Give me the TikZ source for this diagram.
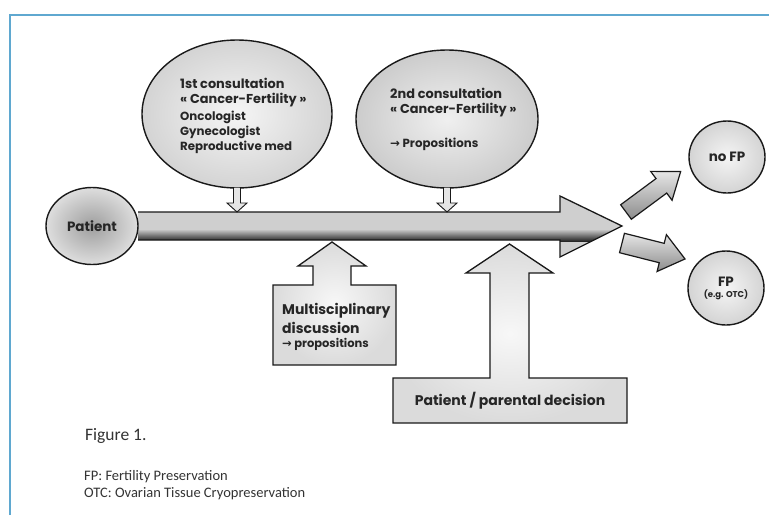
\documentclass[tikz,border=0pt]{standalone}
\usepackage{fontspec}
\setmainfont{Carlito}
\newfontfamily\pop{Poppins}
\newfontfamily\symf{DejaVu Sans}
\usetikzlibrary{shapes.geometric}
\newcommand\adv{\pop\bfseries}
\newcommand\rarr{{\symf\bfseries →}}
\definecolor{framecol}{RGB}{95,168,208}
\tikzset{
  bubble/.style={draw=black!90, ellipse, line width=1.4pt, inner sep=0pt, outer sep=0pt, inner color=black!4, outer color=black!17},
  patbubble/.style={draw=black!90, ellipse, line width=1.4pt, inner sep=0pt, outer sep=0pt, inner color=black!38, outer color=black!13},
  boxarrow/.style={draw=black!90, line width=1.3pt, line join=miter, inner color=black!3, outer color=black!14},
  smallarrow/.style={draw=black!90, line width=0.9pt, line join=miter, fill=black!10},
  sidearrow/.style={draw=black!90, line width=1.2pt, line join=miter, top color=black!10, bottom color=black!45},
  big/.style={text=black!85, font=\adv\fontsize{12.9}{14}\selectfont, inner sep=0pt, anchor=west},
  small/.style={text=black!85, font=\adv\fontsize{11.8}{13}\selectfont, inner sep=0pt, anchor=west},
  captext/.style={text=black!80, inner sep=0pt, anchor=west}
}
\begin{document}
\begin{tikzpicture}[x=1pt,y=-1pt]
\useasboundingbox (0,0) rectangle (769,515);
% frame
\draw[framecol, line width=1.3pt] (10,515) -- (10,15) -- (769,15);

% big horizontal arrow
\path[fill=black!19] (138,212) -- (560,212) -- (560,196) -- (622,226) -- (560,257) -- (560,240) -- (138,240) -- cycle;
\begin{scope}
\clip (138,212) -- (560,212) -- (560,196) -- (622,226) -- (560,257) -- (560,240) -- (138,240) -- cycle;
\shade[top color=black!19, bottom color=black!85] (130,229) rectangle (630,241);
\end{scope}
\draw[black!90, line width=1.3pt, line join=miter] (138,212) -- (560,212) -- (560,196) -- (622,226) -- (560,257) -- (560,240) -- (138,240);

% consultation bubbles
\node[bubble, minimum width=190pt, minimum height=148pt] (c1) at (237,114) {};
\node[bubble, minimum width=182pt, minimum height=138pt, inner color=black!6, outer color=black!20] (c2) at (447,119) {};

\node[big] (t1a) at (180,83) {1st consultation};
\node[big] (t1b) at (180,100) {« Cancer-Fertility »};
\node[small] (t1c) at (180,117) {Oncologist};
\node[small] (t1d) at (180,132) {Gynecologist};
\node[small] (t1e) at (180,147) {Reproductive med};

\node[big] (t2a) at (390,93) {2nd consultation};
\node[big] (t2b) at (390,110) {« Cancer-Fertility »};
\node[small] (t2c) at (390,144) {\rarr{} Propositions};

% small down arrows
\draw[smallarrow] (233.5,188) -- (233.5,203) -- (227,203) -- (237,212) -- (247,203) -- (240.5,203) -- (240.5,188);
\draw[smallarrow] (443.5,188) -- (443.5,203) -- (437,203) -- (447,212) -- (457,203) -- (450.5,203) -- (450.5,188);

% patient
\node[patbubble, minimum width=92pt, minimum height=77pt, text=black!85, font=\adv\fontsize{13.5}{16}\selectfont] (pat) at (92,226) {Patient};

% multidisciplinary arrow box
\path[boxarrow] (273,285) -- (313,285) -- (313,266) -- (298,266) -- (332,242) -- (366,266) -- (351,266) -- (351,285) -- (396,285) -- (396,365) -- (273,365) -- cycle;
\node[big, font=\adv\fontsize{14}{15}\selectfont] (m1) at (282,311) {Multisciplinary};
\node[big, font=\adv\fontsize{14}{15}\selectfont] (m2) at (282,328) {discussion};
\node[small, font=\adv\fontsize{11.5}{13}\selectfont] (m3) at (282,344) {\rarr{} propositions};

% patient / parental decision arrow box
\path[boxarrow] (393,378) -- (490,378) -- (490,273) -- (466,273) -- (509.5,244) -- (553,273) -- (529,273) -- (529,378) -- (627,378) -- (627,423) -- (393,423) -- cycle;
\node[text=black!85, font=\adv\fontsize{14}{15}\selectfont, inner sep=0pt] (dec) at (510,401) {Patient / parental decision};

% side arrows
\begin{scope}[shift={(626,212)}, rotate=36.5]
\path[sidearrow] (0,-9) -- (44,-9) -- (44,-18) -- (68,0) -- (44,18) -- (44,9) -- (0,9) -- cycle;
\end{scope}
\begin{scope}[shift={(622,243)}, rotate=-14.2]
\path[sidearrow] (0,-10) -- (41,-10) -- (41,-19) -- (65,0) -- (41,19) -- (41,10) -- (0,10) -- cycle;
\end{scope}

% outcome bubbles
\node[bubble, minimum width=76pt, minimum height=72pt, text=black!85, font=\adv\fontsize{13.5}{14}\selectfont] (nofp) at (727,157) {no FP};
\node[bubble, minimum width=76pt, minimum height=74pt, text=black!85, align=center, font=\adv\fontsize{13.5}{14}\selectfont] (fp) at (726,288) {FP\\[-3pt]{\adv\fontsize{8.5}{9}\selectfont (e.g. OTC)}};

% captions
\node[captext, font=\fontsize{17.5}{20}\selectfont] (fig) at (85,436) {Figure 1.};
\node[captext, font=\fontsize{14.5}{17}\selectfont] (fn1) at (84,477) {FP: Fertility Preservation};
\node[captext, font=\fontsize{14.5}{17}\selectfont] (fn2) at (84,494) {OTC: Ovarian Tissue Cryopreservation};
\end{tikzpicture}
\end{document}
